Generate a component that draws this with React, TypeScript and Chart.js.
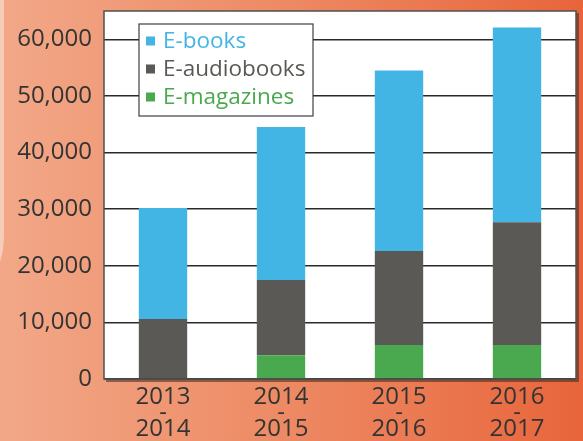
import React, { useEffect, useRef } from "react";
import { Chart, registerables } from "chart.js";

Chart.register(...registerables);

const categories: string[][] = [
  ["2013", "-", "2014"],
  ["2014", "-", "2015"],
  ["2015", "-", "2016"],
  ["2016", "-", "2017"],
];
const eMagazines = [0, 4200, 6000, 6000];
const eAudiobooks = [10600, 13300, 16600, 21700];
const eBooks = [19600, 27000, 31900, 34400];
const yTickLabels = ["0", "10,000", "20,000", "30,000", "40,000", "50,000", "60,000"];

const BLUE = "#43b5e5";
const GRAY = "#5a5955";
const GREEN = "#4aa84f";
const FONT = "'Open Sans', 'Noto Sans', sans-serif";

const bgPlugin = {
  id: "bgPlugin",
  beforeDraw(chart: any) {
    const { ctx, width, height, chartArea } = chart;
    ctx.save();
    const g = ctx.createLinearGradient(0, 0, width, 0);
    g.addColorStop(0, "#f2a888");
    g.addColorStop(0.5, "#ed8963");
    g.addColorStop(1, "#e8653b");
    ctx.fillStyle = g;
    ctx.fillRect(0, 0, width, height);
    // light strip on far left
    ctx.fillStyle = "#f6cdb9";
    ctx.beginPath();
    ctx.moveTo(0, 0);
    ctx.lineTo(4, 0);
    ctx.lineTo(4, 232);
    ctx.quadraticCurveTo(4, 250, 0, 262);
    ctx.closePath();
    ctx.fill();
    // shadow
    ctx.fillStyle = "rgba(60,40,30,0.55)";
    ctx.fillRect(chartArea.left + 2, chartArea.top + 2, chartArea.right - chartArea.left + 1, chartArea.bottom - chartArea.top + 1);
    ctx.fillStyle = "#ffffff";
    ctx.fillRect(chartArea.left, chartArea.top, chartArea.right - chartArea.left, chartArea.bottom - chartArea.top);
    ctx.restore();
  },
  afterDraw(chart: any) {
    const { ctx, chartArea } = chart;
    ctx.save();
    ctx.strokeStyle = "#505050";
    ctx.lineWidth = 1.5;
    ctx.strokeRect(chartArea.left, chartArea.top, chartArea.right - chartArea.left, chartArea.bottom - chartArea.top);
    // legend
    const lx = chartArea.left + 35;
    const ly = chartArea.top + 13;
    const lw = 174;
    const lh = 92;
    ctx.fillStyle = "#ffffff";
    ctx.fillRect(lx, ly, lw, lh);
    ctx.strokeStyle = "#404040";
    ctx.lineWidth = 1.2;
    ctx.strokeRect(lx, ly, lw, lh);
    const ds = chart.data.datasets.slice().reverse();
    ctx.font = `22.5px ${FONT}`;
    ctx.textBaseline = "middle";
    ctx.textAlign = "left";
    ds.forEach((d: any, i: number) => {
      const cy = ly + 17 + i * 28;
      ctx.fillStyle = d.backgroundColor;
      ctx.fillRect(lx + 7, cy - 4.5, 9, 9);
      ctx.fillStyle = d.backgroundColor;
      ctx.fillText(d.label, lx + 24, cy + 1);
    });
    ctx.restore();
  },
};

export default function App() {
  const ref = useRef<HTMLCanvasElement>(null);
  useEffect(() => {
    document.body.style.margin = "0";
    const chart = new Chart(ref.current!, {
      type: "bar",
      data: {
        labels: categories,
        datasets: [
          { label: "E-magazines", data: eMagazines, backgroundColor: GREEN },
          { label: "E-audiobooks", data: eAudiobooks, backgroundColor: GRAY },
          { label: "E-books", data: eBooks, backgroundColor: BLUE },
        ],
      },
      options: {
        animation: false,
        responsive: false,
        layout: { padding: { top: 11, right: 7, left: 0, bottom: 0 } },
        plugins: { legend: { display: false }, tooltip: { enabled: false } },
        datasets: { bar: { barPercentage: 0.41, categoryPercentage: 1 } },
        scales: {
          x: {
            stacked: true,
            grid: { display: false, drawTicks: false },
            border: { display: false },
            ticks: {
              color: "#333333",
              font: { family: FONT, size: 24, lineHeight: "16px" },
              padding: 10,
              maxRotation: 0,
            },
            afterFit(scale: any) {
              scale.height = 62;
              scale.paddingLeft = 0;
              scale.paddingRight = 0;
            },
          },
          y: {
            stacked: true,
            min: 0,
            max: 65000,
            grid: {
              drawTicks: false,
              color: (c: any) => (c.tick && c.tick.value % 10000 === 0 ? "#2a2a2a" : "#d4d4d4"),
              lineWidth: (c: any) => (c.tick && c.tick.value % 10000 === 0 ? 1.5 : 2),
            },
            border: { display: false },
            ticks: {
              stepSize: 5000,
              color: "#333333",
              font: { family: FONT, size: 24 },
              padding: 12,
              callback: (v: any) => (v % 10000 === 0 ? yTickLabels[v / 10000] : ""),
            },
            afterFit(scale: any) {
              scale.width = 104;
              scale.paddingTop = 0;
              scale.paddingBottom = 0;
            },
          },
        },
      },
      plugins: [bgPlugin],
    });
    return () => chart.destroy();
  }, []);
  return <canvas ref={ref} width={583} height={441} style={{ display: "block" }} />;
}
